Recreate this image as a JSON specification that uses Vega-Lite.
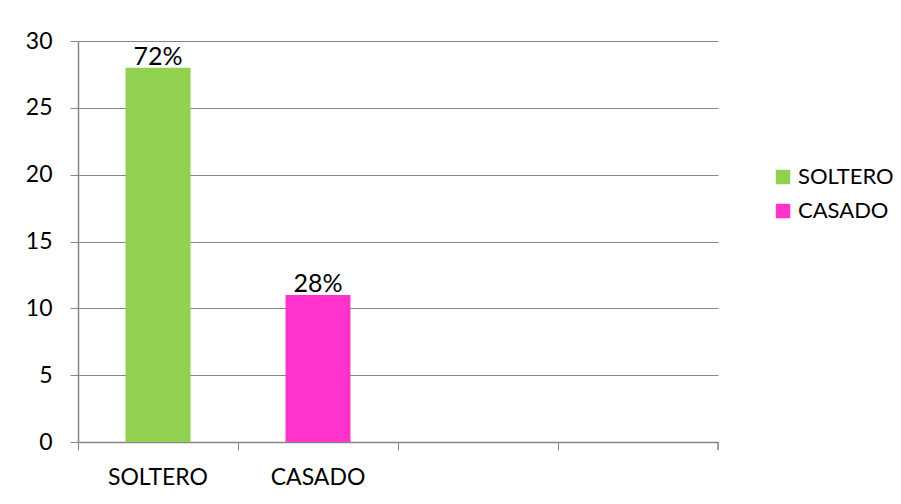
{
  "$schema": "https://vega.github.io/schema/vega-lite/v6.json",
  "width": 640,
  "height": 401,
  "autosize": {"type": "none"},
  "padding": {"left": 78, "top": 41, "right": 183, "bottom": 62},
  "background": "white",
  "config": {
    "view": {"stroke": null},
    "font": "Lato",
    "axis": {"labelFont": "Lato", "labelFontSize": 23, "labelColor": "#000000"},
    "legend": {"labelFont": "Lato", "labelFontSize": 22, "labelColor": "#000000"}
  },
  "data": {
    "values": [
      {"estado": "SOLTERO", "n": 28, "pct": "72%"},
      {"estado": "CASADO", "n": 11, "pct": "28%"}
    ]
  },
  "layer": [
    {
      "mark": {"type": "bar", "width": {"band": 0.406}},
      "encoding": {
        "x": {
          "field": "estado",
          "type": "nominal",
          "sort": null,
          "scale": {"domain": ["SOLTERO", "CASADO", "_3", "_4"], "paddingInner": 0, "paddingOuter": 0},
          "axis": {
            "title": null,
            "labelAngle": 0,
            "labelExpr": "datum.value == '_3' || datum.value == '_4' ? '' : datum.value",
            "bandPosition": 0,
            "tickSize": 8,
            "tickColor": "#868686",
            "domainColor": "#868686",
            "domainWidth": 1.5,
            "labelPadding": 16,
            "grid": false
          }
        },
        "y": {
          "field": "n",
          "type": "quantitative",
          "scale": {"domain": [0, 30]},
          "axis": {
            "title": null,
            "values": [0, 5, 10, 15, 20, 25, 30],
            "tickSize": 8,
            "tickColor": "#868686",
            "domainColor": "#868686",
            "domainWidth": 1.5,
            "grid": true,
            "gridColor": "#868686",
            "gridWidth": 1,
            "labelPadding": 18
          }
        },
        "color": {
          "field": "estado",
          "type": "nominal",
          "scale": {"domain": ["SOLTERO", "CASADO"], "range": ["#92D050", "#FF33CC"]},
          "legend": {
            "title": null,
            "orient": "none",
            "legendX": 694,
            "legendY": 125,
            "symbolType": "square",
            "symbolSize": 210,
            "symbolStrokeWidth": 0,
            "labelOffset": 4,
            "rowPadding": 12
          }
        }
      }
    },
    {
      "mark": {"type": "text", "baseline": "alphabetic", "dy": -3, "fontSize": 25, "font": "Lato", "color": "#000000"},
      "encoding": {
        "x": {"field": "estado", "type": "nominal", "sort": null},
        "y": {"field": "n", "type": "quantitative"},
        "text": {"field": "pct"}
      }
    },
    {
      "mark": {"type": "tick", "orient": "vertical", "size": 8, "thickness": 1.5, "yOffset": 4, "color": "#868686"},
      "encoding": {
        "x": {"datum": "_4", "bandPosition": 1},
        "y": {"datum": 0, "type": "quantitative"}
      }
    }
  ]
}
